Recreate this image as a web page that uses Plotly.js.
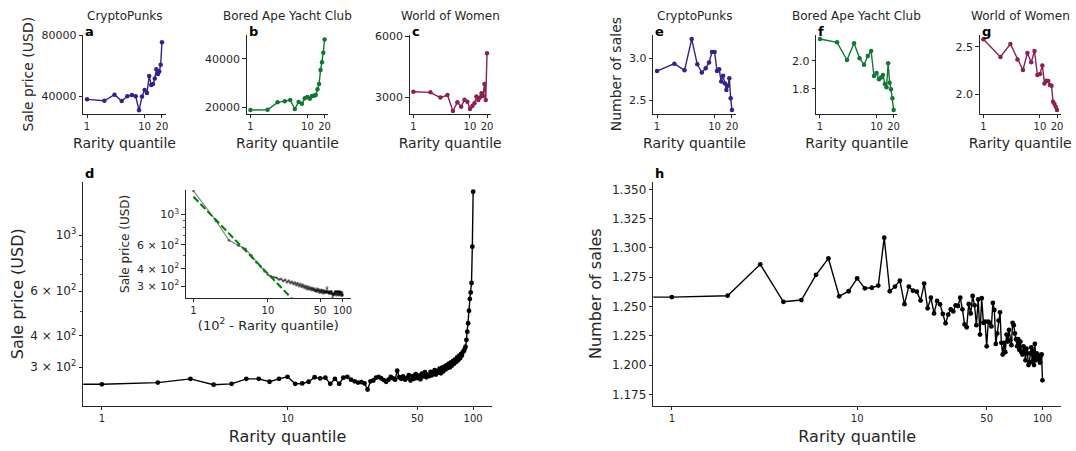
<!DOCTYPE html>
<html><head><meta charset="utf-8">
<script src="https://cdn.plot.ly/plotly-3.0.1.min.js"></script>
<style>html,body{margin:0;padding:0;background:#fff}#chart{width:1076px;height:451px}</style>
</head><body><div id="chart"></div>
<script>
// ---------- data ----------
const quantile20 = [1,2,3,4,5,6,7,8,9,10,11,12,13,14,15,16,17,18,19,20];
const quantile100 = [1,2,3,4,5,6,7,8,9,10,11,12,13,14,15,16,17,18,19,20,
  21,22,23,24,25,26,27,28,29,30,31,32,33,34,35,36,37,38,39,40,
  41,42,43,44,45,46,47,48,49,50,51,52,53,54,55,56,57,58,59,60,
  61,62,63,64,65,66,67,68,69,70,71,72,73,74,75,76,77,78,79,80,
  81,82,83,84,85,86,87,88,89,90,91,92,93,94,95,96,97,98,99,100];

const cryptopunksPrice = [37800,36900,40900,36700,39800,40700,39800,30600,39600,43900,42000,53100,47200,47900,51400,57500,54500,56000,60500,75200];
const boredApePrice = [18900,19000,22050,22450,23000,19300,22200,21500,23700,24250,23550,24650,24800,25050,27400,29600,35300,38500,42450,47900];
const worldOfWomenPrice = [3260,3230,2970,3100,2310,2740,2520,2870,2770,2410,2560,2690,3020,2850,2970,3180,3050,3640,2850,5150];

const cryptopunksSales = [2.845,2.933,2.853,3.226,2.925,2.829,2.877,2.948,3.071,3.071,2.845,2.865,2.72,2.79,2.70,2.62,2.67,2.76,2.52,2.38];
const boredApeSales = [2.155,2.131,2.005,2.124,2.017,1.971,2.033,2.069,1.890,1.912,1.867,1.880,1.898,1.833,1.810,1.981,1.843,1.795,1.731,1.648];
const worldOfWomenSales = [2.577,2.392,2.528,2.367,2.255,2.434,2.336,2.455,2.203,2.213,2.304,2.115,2.143,2.140,2.098,2.091,1.923,1.899,1.870,1.835];

const allPrice = [257,261,270,256,258,270,270,263,270,275,258,259,263,274,271,273,258,270,258,273,
  275,268,264,261,262,259,245,264,266,273,275,271,267,263,268,275,271,268,291,274,
  270,276,268,272,279,266,277,270,282,272,278,269,283,276,287,274,280,277,288,279,
  284,292,281,290,286,296,284,299,289,302,294,306,298,310,300,314,305,318,310,322,
  315,328,320,333,326,338,334,345,347,354,362,385,415,448,502,559,593,646,899,1483];

const allSales = [1.258,1.2592,1.286,1.254,1.2555,1.277,1.291,1.2587,1.263,1.274,
  1.2655,1.266,1.2678,1.3087,1.263,1.267,1.272,1.252,1.267,1.2635,
  1.2626,1.255,1.2695,1.2484,1.2575,1.2441,1.2547,1.2518,1.2436,1.2356,
  1.243,1.2476,1.2458,1.251,1.2504,1.2575,1.2476,1.2347,1.2322,1.2521,
  1.244,1.259,1.251,1.234,1.256,1.226,1.257,1.236,1.237,1.216,
  1.237,1.236,1.233,1.253,1.247,1.218,1.227,1.238,1.245,1.219,
  1.209,1.219,1.211,1.226,1.220,1.230,1.221,1.217,1.236,1.234,
  1.227,1.222,1.216,1.222,1.213,1.220,1.211,1.209,1.216,1.212,
  1.204,1.214,1.210,1.200,1.202,1.210,1.215,1.203,1.212,1.200,
  1.218,1.204,1.210,1.209,1.207,1.205,1.202,1.208,1.209,1.187];

// power-law fit line endpoints (inset)
const fitX = [1, 25];
const fitY = [1343, 220];

const collectionNames = ['CryptoPunks','Bored Ape Yacht Club','World of Women'];
const collectionColors = ['#332288','#117733','#882255'];

// ---------- layout helpers ----------
const W = 1076, H = 451;
const F = 'DejaVu Sans';
const INK = '#262626';
const px2x = p => p / W;
const px2y = p => 1 - p / H;

function baseAxis(extra){
  return Object.assign({
    showline:true, linecolor:INK, linewidth:1.1, mirror:false,
    ticks:'outside', ticklen:3.5, tickwidth:1, tickcolor:INK,
    showgrid:false, zeroline:false, fixedrange:true,
    tickfont:{family:F, size:11, color:INK}
  }, extra);
}

const smallTop = 34.5, smallBot = 113.7;
const smallX = [[83.3,165.7],[246.7,328.3],[409.7,490.7],[653.3,735.7],[816.3,897.3],[979.7,1060.7]];
const smallYRange = [[28400,80330],[17380,49930],[2179,6074],[2.337,3.280],[1.621,2.187],[1.797,2.628]];
const smallYTicks = [[40000,80000],[20000,40000],[3000,6000],[2.5,3.0],[1.8,2.0],[2.0,2.5]];
const smallYText = [['40000','80000'],['20000','40000'],['3000','6000'],['2.5','3.0'],['1.8','2.0'],['2.0','2.5']];
const smallSeries = [cryptopunksPrice, boredApePrice, worldOfWomenPrice, cryptopunksSales, boredApeSales, worldOfWomenSales];
const smallLetters = ['a','b','c','e','f','g'];

const data = [];
const layout = {
  width:W, height:H, margin:{l:0,r:0,t:0,b:0}, showlegend:false,
  paper_bgcolor:'rgba(0,0,0,0)', plot_bgcolor:'rgba(0,0,0,0)',
  font:{family:F, color:INK}, annotations:[], shapes:[]
};

for (let i = 0; i < 6; i++) {
  const n = i + 1;
  const xa = 'x' + n, ya = 'y' + n;
  data.push({
    x: quantile20, y: smallSeries[i], xaxis: xa, yaxis: ya,
    type:'scatter', mode:'lines+markers',
    line:{color: collectionColors[i % 3], width:1.4},
    marker:{color: collectionColors[i % 3], size:4.5},
    hoverinfo:'skip'
  });
  layout['xaxis' + n] = baseAxis({
    domain:[px2x(smallX[i][0]), px2x(smallX[i][1])], anchor: ya,
    type:'log', range:[-0.065, 1.366],
    tickmode:'array', tickvals:[1,10,20], ticktext:['1','10','20'],
    tickfont:{family:F, size:10, color:INK},
    title:{text:'Rarity quantile', font:{family:F, size:14, color:INK}, standoff:6}
  });
  const yTitle = i === 0 ? 'Sale price (USD)' : (i === 3 ? 'Number of sales' : '');
  const yAx = baseAxis({
    domain:[px2y(smallBot), px2y(smallTop)], anchor: xa,
    range: smallYRange[i],
    tickmode:'array', tickvals: smallYTicks[i], ticktext: smallYText[i]
  });
  if (yTitle) yAx.title = {text: yTitle, font:{family:F, size:14, color:INK}, standoff:4};
  layout['yaxis' + n] = yAx;
  layout.annotations.push({
    xref:'paper', yref:'paper', x: px2x((smallX[i][0] + smallX[i][1]) / 2), y: px2y(15.5),
    xanchor:'center', yanchor:'middle', showarrow:false,
    text: collectionNames[i % 3], font:{family:F, size:12, color:INK}
  });
  layout.annotations.push({
    xref:'paper', yref:'paper', x: px2x(smallX[i][0]), y: px2y(41),
    xanchor:'left', yanchor:'bottom', showarrow:false,
    text: '<b>' + smallLetters[i] + '</b>', font:{family:F, size:13, color:'#000'}
  });
}

// main panel d
const mainTop = 181.7, mainBot = 405.7;
const mainXRange = [-0.1, 2.1];
// fraction of the x domain where quantile 1 sits (line continues flat to the spine, as in the source)
const q1Frac = (Math.log10(quantile100[0]) - mainXRange[0]) / (mainXRange[1] - mainXRange[0]);

data.push({
  x: quantile100, y: allPrice, xaxis:'x7', yaxis:'y7', type:'scatter', mode:'lines+markers',
  line:{color:'#000', width:1.4}, marker:{color:'#000', size:4.8}, hoverinfo:'skip'
});
layout.shapes.push({type:'line', xref:'x7 domain', yref:'y7', x0:0, x1:q1Frac,
  y0:allPrice[0], y1:allPrice[0], line:{color:'#000', width:1.4}});
layout.xaxis7 = baseAxis({
  domain:[px2x(83.3), px2x(491.7)], anchor:'y7', type:'log', range:mainXRange,
  tickmode:'array', tickvals:[1,10,50,100], ticktext:['1','10','50','100'],
  tickfont:{family:F, size:10, color:INK},
  title:{text:'Rarity quantile', font:{family:F, size:16, color:INK}, standoff:7}
});
layout.yaxis7 = baseAxis({
  domain:[px2y(mainBot), px2y(mainTop)], anchor:'x7', type:'log', range:[2.3253, 3.2107],
  tickmode:'array', tickvals:[300,400,600,1000],
  ticktext:['3 × 10<sup>2</sup>','4 × 10<sup>2</sup>','6 × 10<sup>2</sup>','10<sup>3</sup>'],
  tickfont:{family:F, size:12, color:INK},
  minor:{tickmode:'array', tickvals:[500,700,800,900], ticklen:2, tickwidth:0.8, tickcolor:INK, ticks:'outside'},
  title:{text:'Sale price (USD)', font:{family:F, size:16, color:INK}, standoff:2}
});

// main panel h
data.push({
  x: quantile100, y: allSales, xaxis:'x8', yaxis:'y8', type:'scatter', mode:'lines+markers',
  line:{color:'#000', width:1.4}, marker:{color:'#000', size:4.8}, hoverinfo:'skip'
});
layout.shapes.push({type:'line', xref:'x8 domain', yref:'y8', x0:0, x1:q1Frac,
  y0:allSales[0], y1:allSales[0], line:{color:'#000', width:1.4}});
layout.xaxis8 = baseAxis({
  domain:[px2x(653.3), px2x(1061)], anchor:'y8', type:'log', range:mainXRange,
  tickmode:'array', tickvals:[1,10,50,100], ticktext:['1','10','50','100'],
  tickfont:{family:F, size:10, color:INK},
  title:{text:'Rarity quantile', font:{family:F, size:16, color:INK}, standoff:7}
});
layout.yaxis8 = baseAxis({
  domain:[px2y(mainBot), px2y(mainTop)], anchor:'x8', range:[1.1653, 1.3565],
  tickmode:'array', tickvals:[1.175,1.2,1.225,1.25,1.275,1.3,1.325,1.35], tickformat:'.3f',
  tickfont:{family:F, size:12, color:INK},
  title:{text:'Number of sales', font:{family:F, size:16, color:INK}, standoff:6}
});

// inset
const insetX = quantile100.map(q => 101 - q);
data.push({
  x: insetX, y: allPrice, xaxis:'x9', yaxis:'y9', type:'scatter', mode:'lines+markers',
  line:{color:'rgba(0,0,0,0.45)', width:1.3}, marker:{color:'rgba(0,0,0,0.45)', size:3}, hoverinfo:'skip'
});
data.push({
  x: fitX, y: fitY, xaxis:'x9', yaxis:'y9', type:'scatter', mode:'lines',
  line:{color:'#008000', width:2, dash:'7px,3px'}, hoverinfo:'skip'
});
layout.xaxis9 = baseAxis({
  domain:[px2x(186), px2x(350.7)], anchor:'y9', type:'log', range:[-0.1, 2.11],
  tickmode:'array', tickvals:[1,10,50,100], ticktext:['1','10','50','100'],
  tickfont:{family:F, size:10, color:INK},
  title:{text:'(10<sup>2</sup> - Rarity quantile)', font:{family:F, size:13, color:INK}, standoff:2}
});
layout.yaxis9 = baseAxis({
  domain:[px2y(297.7), px2y(190)], anchor:'x9', type:'log', range:[2.392, 3.177],
  tickmode:'array', tickvals:[300,400,600,1000],
  ticktext:['3 × 10<sup>2</sup>','4 × 10<sup>2</sup>','6 × 10<sup>2</sup>','10<sup>3</sup>'],
  tickfont:{family:F, size:11, color:INK},
  minor:{tickmode:'array', tickvals:[500,700,800,900], ticklen:2, tickwidth:0.8, tickcolor:INK, ticks:'outside'},
  title:{text:'Sale price (USD)', font:{family:F, size:12, color:INK}, standoff:4}
});

// letters d, h
layout.annotations.push({xref:'paper', yref:'paper', x:px2x(83.3), y:px2y(183), xanchor:'left', yanchor:'bottom',
  showarrow:false, text:'<b>d</b>', font:{family:F, size:13, color:'#000'}});
layout.annotations.push({xref:'paper', yref:'paper', x:px2x(653.3), y:px2y(183), xanchor:'left', yanchor:'bottom',
  showarrow:false, text:'<b>h</b>', font:{family:F, size:13, color:'#000'}});

Plotly.newPlot('chart', data, layout, {staticPlot:true, displayModeBar:false});
</script></body></html>
